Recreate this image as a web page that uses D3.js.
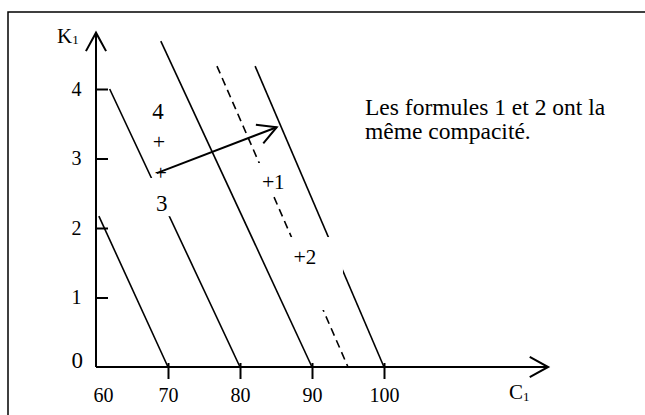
<!DOCTYPE html>
<html>
<head>
<meta charset="utf-8">
<script src="https://cdn.jsdelivr.net/npm/d3@7"></script>
<style>
body{margin:0;background:#fff;}
svg{display:block;}
svg text{font-family:"Liberation Serif","Times New Roman",Times,"DejaVu Serif",serif;}
</style>
</head>
<body>
<script>
var w = 645;
var h = 415;

// iso-compacity lines: from (c0,k0) down to the C1 axis at c1
var lineStartC = [60.4, 61.9, 69.0, 76.8, 82.1];
var lineStartK = [2.17, 4.0, 4.69, 4.33, 4.33];
var lineEndC = [70, 80, 90, 95, 100];
var lineDashed = [false, false, false, true, false];

// formulas (points marked with +)
var formulas = ["1", "2", "3", "4"];
var formC1 = [83.9, 88.3, 69.0, 68.75];
var formK1 = [2.66, 1.58, 2.79, 3.24];
var labelSide = ["right", "right", "below", "above"];

// direction of increasing compacity
var arrowFrom = [69.0, 2.79];
var arrowTo = [85.1, 3.45];

// white text boxes hiding parts of the lines
var boxC = [[67.5, 71.5], [82.2, 87.2], [86.67, 94.3]];
var boxK = [[2.17, 2.72], [2.50, 2.935], [0.82, 1.87]];

var xTicks = [60, 70, 80, 90, 100];
var yTicks = [0, 1, 2, 3, 4];
var xAxisEnd = 122.8;
var yAxisEnd = 4.81;
var note = ["Les formules 1 et 2 ont la", "même compacité."];

var serif = "'Liberation Serif', 'Times New Roman', Times, serif";

var x = d3.scaleLinear().domain([60, 100]).range([96, 384]);
var y = d3.scaleLinear().domain([0, 4]).range([367, 89]);

var svg = d3.select("body").append("svg")
    .attr("width", w)
    .attr("height", h)
    .attr("font-family", serif);

// frame (cut by the picture on the right and bottom)
svg.append("rect")
    .attr("x", 8).attr("y", 12)
    .attr("width", 700).attr("height", 500)
    .attr("fill", "none")
    .attr("stroke", "#000")
    .attr("stroke-width", 1.5);

// iso lines
var lines = d3.range(lineStartC.length).map(function(i) {
    return {c0: lineStartC[i], k0: lineStartK[i], c1: lineEndC[i], dashed: lineDashed[i]};
});
svg.append("g").selectAll("line")
    .data(lines)
    .enter()
    .append("line")
    .attr("x1", function(d) { return x(d.c0); })
    .attr("y1", function(d) { return y(d.k0); })
    .attr("x2", function(d) { return x(d.c1); })
    .attr("y2", y(0))
    .attr("stroke", "#000")
    .attr("stroke-width", 1.6)
    .attr("stroke-dasharray", function(d) { return d.dashed ? "8,5" : null; });

// masks
svg.append("g").selectAll("rect")
    .data(d3.range(boxC.length))
    .enter()
    .append("rect")
    .attr("x", function(i) { return x(boxC[i][0]); })
    .attr("y", function(i) { return y(boxK[i][1]); })
    .attr("width", function(i) { return x(boxC[i][1]) - x(boxC[i][0]); })
    .attr("height", function(i) { return y(boxK[i][0]) - y(boxK[i][1]); })
    .attr("fill", "#fff");

// open arrow head helper
function arrowHead(g, tx, ty, fx, fy, len, ang) {
    var a = Math.atan2(ty - fy, tx - fx);
    var p = [a + Math.PI - ang, a + Math.PI + ang].map(function(b) {
        return [tx + len * Math.cos(b), ty + len * Math.sin(b)];
    });
    g.append("path")
        .attr("d", "M" + p[0] + "L" + tx + "," + ty + "L" + p[1])
        .attr("fill", "none")
        .attr("stroke", "#000")
        .attr("stroke-width", 2);
}

// axes
var axisG = svg.append("g");
axisG.append("line")
    .attr("x1", x(60)).attr("y1", y(0))
    .attr("x2", x(xAxisEnd)).attr("y2", y(0))
    .attr("stroke", "#000").attr("stroke-width", 2);
axisG.append("line")
    .attr("x1", x(60)).attr("y1", y(0))
    .attr("x2", x(60)).attr("y2", y(yAxisEnd))
    .attr("stroke", "#000").attr("stroke-width", 2);
arrowHead(axisG, x(xAxisEnd), y(0), x(60), y(0), 21, 0.5);
arrowHead(axisG, x(60), y(yAxisEnd), x(60), y(0), 21, 0.5);

var xAxis = svg.append("g")
    .attr("transform", "translate(0," + y(0) + ")")
    .call(d3.axisBottom(x).tickValues(xTicks).tickFormat(d3.format("d"))
        .tickSize(12).tickPadding(9));
var yAxis = svg.append("g")
    .attr("transform", "translate(" + x(60) + ",0)")
    .call(d3.axisLeft(y).tickValues(yTicks).tickFormat(d3.format("d"))
        .tickSize(-12).tickPadding(14.5));

[xAxis, yAxis].forEach(function(g) {
    g.attr("font-family", serif).attr("font-size", 20);
    g.select(".domain").remove();
    g.selectAll("line").attr("stroke", "#000").attr("stroke-width", 2);
    g.selectAll("text").attr("fill", "#000");
});
xAxis.selectAll(".tick line").attr("y1", -4);
xAxis.selectAll(".tick").filter(function(d) { return d === 60; })
    .select("line").remove();
xAxis.selectAll(".tick").filter(function(d) { return d === 60; })
    .select("text").attr("dx", 7);
yAxis.selectAll(".tick").filter(function(d) { return d === 0; })
    .select("line").remove();
yAxis.selectAll(".tick").filter(function(d) { return d === 0; })
    .select("text").attr("x", -13).attr("y", -7).attr("font-size", 23);

// axis names
var kLab = svg.append("text").attr("x", 57).attr("y", 43).attr("font-size", 21);
kLab.append("tspan").text("K");
kLab.append("tspan").attr("dy", 1).attr("font-size", 13).text("1");
var cLab = svg.append("text").attr("x", 509).attr("y", 399).attr("font-size", 21);
cLab.append("tspan").text("C");
cLab.append("tspan").attr("dy", 2).attr("font-size", 13).text("1");

// gradient arrow
svg.append("line")
    .attr("x1", x(arrowFrom[0]) - 4).attr("y1", y(arrowFrom[1]))
    .attr("x2", x(arrowTo[0])).attr("y2", y(arrowTo[1]))
    .attr("stroke", "#000").attr("stroke-width", 2);
arrowHead(svg, x(arrowTo[0]), y(arrowTo[1]), x(arrowFrom[0]), y(arrowFrom[1]), 21, 0.5);

// formula points and labels
var pts = svg.append("g").selectAll("g")
    .data(formulas)
    .enter()
    .append("g")
    .attr("transform", function(d, i) {
        return "translate(" + x(formC1[i]) + "," + y(formK1[i]) + ")";
    });
pts.append("text")
    .attr("text-anchor", "middle")
    .attr("y", 7)
    .attr("font-size", 22)
    .attr("fill", "#000")
    .text("+");
pts.append("text")
    .attr("text-anchor", function(d, i) { return labelSide[i] === "right" ? "start" : "middle"; })
    .attr("x", function(d, i) {
        if (labelSide[i] === "right") return 6;
        return labelSide[i] === "above" ? -1 : 1;
    })
    .attr("y", function(d, i) {
        if (labelSide[i] === "above") return -23;
        if (labelSide[i] === "below") return 38;
        return 7;
    })
    .attr("font-size", function(d, i) { return labelSide[i] === "right" ? 21 : 23; })
    .text(function(d) { return d; });

// note
svg.append("text")
    .attr("y", 115)
    .attr("font-size", 23.5)
    .selectAll("tspan")
    .data(note)
    .enter()
    .append("tspan")
    .attr("x", 365)
    .attr("dy", function(d, i) { return i ? 24 : 0; })
    .text(function(d) { return d; });
</script>
</body>
</html>
